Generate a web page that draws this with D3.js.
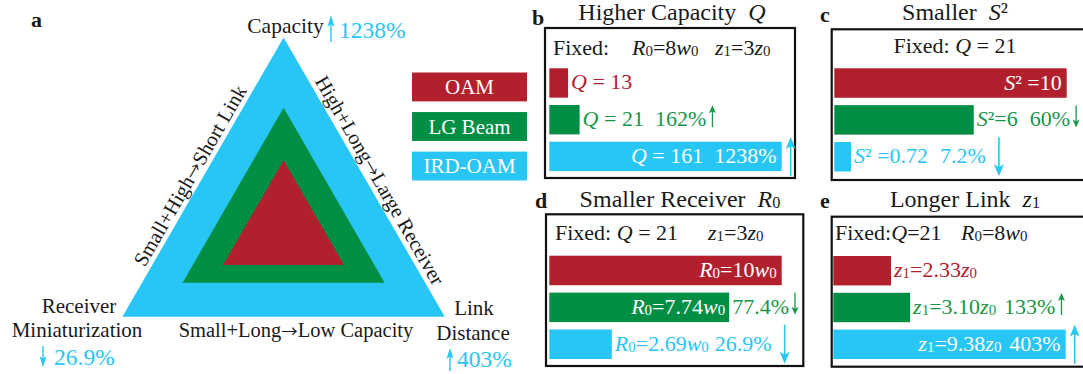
<!DOCTYPE html>
<html>
<head>
<meta charset="utf-8">
<script src="https://cdn.jsdelivr.net/npm/d3@7"></script>
<style>
  html, body { margin: 0; padding: 0; background: #fff; }
  svg { display: block; }
  text { font-family: "Liberation Serif", "Times New Roman", serif; fill: #1a1a1a; }
  .arw { font-family: "Noto Sans CJK SC", "DejaVu Sans", sans-serif; font-size: 0.8em; }
</style>
</head>
<body>
<svg id="fig" width="1083" height="374"></svg>
<script>
// ---- data ----
const methods = ["OAM", "LG Beam", "IRD-OAM"];
const capacityQ = [13, 21, 161];        // panel b
const crosstalkS2 = [10, 6, 0.72];      // panel c
const receiverR0 = [10, 7.74, 2.69];    // panel d (in units of w0)
const linkZ1 = [2.33, 3.10, 9.38];      // panel e (in units of z0)

// ---- styling ----
const barColors = ["#B2202E", "#008E44", "#27C6F5"];
const textColors = ["#B2202E", "#17964A", "#27C6F5"];
const svg = d3.select("#fig");

// ratio of a value to the OAM reference, written as a percentage
function pct(v, base) {
  const p = v / base * 100;
  return (p >= 100 ? Math.round(p) : Math.round(p * 10) / 10) + "%";
}

// rich text: segments of [string, style] where style is "i" (italic), "sub" or "arw"
function rich(sel, segs) {
  segs.forEach(([s, st]) => {
    const t = sel.append("tspan").text(s);
    if (st === "i") t.attr("font-style", "italic");
    if (st === "sub") t.attr("font-size", "0.68em").attr("baseline-shift", "-1");
    if (st === "arw") t.attr("class", "arw");
  });
  return sel;
}

function arrow(g, x, yTail, yHead, color, headW, headL, lw) {
  const dir = yHead < yTail ? -1 : 1;
  g.append("line")
    .attr("x1", x).attr("x2", x)
    .attr("y1", yTail).attr("y2", yHead - dir * headL * 0.6)
    .attr("stroke", color).attr("stroke-width", lw);
  g.append("path")
    .attr("d", `M${x},${yHead} L${x - headW / 2},${yHead - dir * headL} L${x},${yHead - dir * headL * 0.75} L${x + headW / 2},${yHead - dir * headL} Z`)
    .attr("fill", color);
}

// ================= panel a : nested triangles =================
const a = svg.append("g");
a.append("text").attr("x", 31).attr("y", 27).attr("font-size", 22)
  .attr("font-weight", "bold").text("a");

const cx = 283.6;
const triLayers = [
  { side: 322.4, base: 316.7 },   // IRD-OAM
  { side: 202, base: 282.7 },     // LG Beam
  { side: 121, base: 265 }        // OAM
];
const h3 = Math.sqrt(3) / 2;
triLayers.forEach((t, i) => {
  const apex = [cx, t.base - t.side * h3];
  const pts = [apex, [cx - t.side / 2, t.base], [cx + t.side / 2, t.base]];
  a.append("path").attr("d", d3.line()(pts) + "Z")
    .attr("fill", barColors[2 - i]);
});

// edge labels
const outer = triLayers[0];
const A = [cx, outer.base - outer.side * h3];
const BL = [cx - outer.side / 2, outer.base];
const BR = [cx + outer.side / 2, outer.base];
function edgeLabel(p0, p1, t, off, rot, segs) {
  const px = p0[0] + (p1[0] - p0[0]) * t;
  const py = p0[1] + (p1[1] - p0[1]) * t;
  const r = rot * Math.PI / 180;
  const ux = Math.sin(r), uy = -Math.cos(r);   // "up" direction of rotated text
  rich(a.append("text")
    .attr("transform", `translate(${px + ux * off},${py + uy * off}) rotate(${rot})`)
    .attr("text-anchor", "middle").attr("font-size", 20.5), segs);
}
edgeLabel(BL, A, 0.484, 5, -60, [["Small+High"], ["\u2192", "arw"], ["Short Link"]]);
edgeLabel(A, BR, 0.533, 5, 60, [["High+Long"], ["\u2192", "arw"], ["Large Receiver"]]);
rich(a.append("text").attr("x", 296).attr("y", 337).attr("text-anchor", "middle")
  .attr("font-size", 20.5), [["Small+Long"], ["\u2192", "arw"], ["Low Capacity"]]);

// vertex labels
const cyan = barColors[2];
a.append("text").attr("x", 285.5).attr("y", 33).attr("text-anchor", "middle")
  .attr("font-size", 21.5).text("Capacity");
arrow(a, 331, 42, 15, cyan, 7, 12, 1.4);
a.append("text").attr("x", 339).attr("y", 38).attr("font-size", 23.5)
  .style("fill", cyan).text(pct(capacityQ[2], capacityQ[0]));

a.append("text").attr("x", 79).attr("y", 313).attr("text-anchor", "middle")
  .attr("font-size", 21).text("Receiver");
a.append("text").attr("x", 77).attr("y", 337).attr("text-anchor", "middle")
  .attr("font-size", 21).text("Miniaturization");
arrow(a, 43, 346, 367, cyan, 7, 11, 1.4);
a.append("text").attr("x", 54).attr("y", 365).attr("font-size", 23.5)
  .style("fill", cyan).text(pct(receiverR0[2], receiverR0[0]));

a.append("text").attr("x", 474).attr("y", 315).attr("text-anchor", "middle")
  .attr("font-size", 21).text("Link");
a.append("text").attr("x", 473).attr("y", 340).attr("text-anchor", "middle")
  .attr("font-size", 21).text("Distance");
arrow(a, 450, 371, 348, cyan, 7, 11, 1.4);
a.append("text").attr("x", 457).attr("y", 367).attr("font-size", 23.5)
  .style("fill", cyan).text(pct(linkZ1[2], linkZ1[0]));

// legend
const legY = d3.scaleBand().domain(methods).range([72.5, 180.5]).paddingInner(0.27);
const leg = a.selectAll("g.leg").data(methods).join("g").attr("class", "leg");
leg.append("rect").attr("x", 412).attr("width", 115)
  .attr("y", d => legY(d)).attr("height", legY.bandwidth())
  .attr("fill", (d, i) => barColors[i]);
leg.append("text").attr("x", 469.5).attr("y", d => legY(d) + legY.bandwidth() / 2 + 7)
  .attr("text-anchor", "middle").attr("font-size", 21).style("fill", "#fff")
  .text(d => d);

// ================= panels b-e : bar comparisons =================
const panels = [
  {
    letter: "b", letterXY: [532, 25],
    title: [["Higher Capacity  "], ["Q", "i"]], titleXY: [672, 20],
    box: [545, 28, 795, 178], barX: 549.3, rowY: [68.3, 171.1],
    values: capacityQ, fmt: d3.format("d"), gap: 12,
    label: v => [["Q", "i"], [" = " + v]],
    place: ["out", "out", "in"], dir: "up",
    fixed: [
      { xy: [553, 55], segs: [["Fixed:"]] },
      { xy: [632, 55], segs: [["R", "i"], ["0", "sub"], ["=8"], ["w", "i"], ["0", "sub"]] },
      { xy: [715, 55], segs: [["z", "i"], ["1", "sub"], ["=3"], ["z", "i"], ["0", "sub"]] }
    ]
  },
  {
    letter: "c", letterXY: [820, 22],
    title: [["Smaller  "], ["S", "i"], ["\u00b2"]], titleXY: [955, 20],
    box: [831.7, 29.3, 1086, 180], barX: 834.3, rowY: [68.3, 171.5],
    values: crosstalkS2, fmt: v => String(v), gap: 12,
    label: (v, i) => [["S", "i"], ["\u00b2"], [(i === 1 ? "=" : " =") + v]],
    place: ["in", "out", "out"], dir: "down",
    fixed: [
      { xy: [955, 53], anchor: "middle", segs: [["Fixed: "], ["Q", "i"], [" = 21"]] }
    ]
  },
  {
    letter: "d", letterXY: [535, 208],
    title: [["Smaller Receiver  "], ["R", "i"], ["0", "sub"]], titleXY: [680, 206.7],
    box: [546, 214.3, 803.3, 366], barX: 549.3, rowY: [255.7, 359],
    values: receiverR0, fmt: v => String(v), gap: 6,
    label: v => [["R", "i"], ["0", "sub"], ["=" + v], ["w", "i"], ["0", "sub"]],
    place: ["in", "split", "out"], dir: "down",
    fixed: [
      { xy: [555, 240], segs: [["Fixed: "], ["Q", "i"], [" = 21"]] },
      { xy: [708, 240], segs: [["z", "i"], ["1", "sub"], ["=3"], ["z", "i"], ["0", "sub"]] }
    ]
  },
  {
    letter: "e", letterXY: [820, 208],
    title: [["Longer Link  "], ["z", "i"], ["1", "sub"]], titleXY: [965, 206.7],
    box: [831.7, 216.7, 1086, 366.7], barX: 833.3, rowY: [256, 359],
    values: linkZ1, fmt: d3.format(".2f"), gap: 8,
    label: v => [["z", "i"], ["1", "sub"], ["=" + v], ["z", "i"], ["0", "sub"]],
    place: ["out", "out", "in"], dir: "up",
    fixed: [
      { xy: [835, 240], segs: [["Fixed:"], ["Q", "i"], ["=21"]] },
      { xy: [961, 240], segs: [["R", "i"], ["0", "sub"], ["=8"], ["w", "i"], ["0", "sub"]] }
    ]
  }
];

const FS = 22;
const rightEdge = sel => { const b = sel.node().getBBox(); return b.x + b.width; };

panels.forEach(p => {
  const g = svg.append("g");
  g.append("text").attr("x", p.letterXY[0]).attr("y", p.letterXY[1])
    .attr("font-size", 22).attr("font-weight", "bold").text(p.letter);
  rich(g.append("text").attr("x", p.titleXY[0]).attr("y", p.titleXY[1])
    .attr("font-size", 24).attr("text-anchor", "middle").style("white-space", "pre"), p.title);

  const [x0, y0, x1, y1] = p.box;
  g.append("rect").attr("x", x0).attr("y", y0).attr("width", x1 - x0).attr("height", y1 - y0)
    .attr("fill", "none").attr("stroke", "#111").attr("stroke-width", 2.2);

  p.fixed.forEach(f => {
    rich(g.append("text").attr("x", f.xy[0]).attr("y", f.xy[1]).attr("font-size", FS)
      .attr("text-anchor", f.anchor || "start").style("white-space", "pre"), f.segs);
  });

  const x = d3.scaleLinear().domain([0, d3.max(p.values)]).range([0, 232.4]);
  const y = d3.scaleBand().domain(methods).range(p.rowY).paddingInner(0.2).paddingOuter(0);
  const bw = y.bandwidth();

  methods.forEach((m, i) => {
    const v = p.values[i];
    const top = y(m), w = x(v), end = p.barX + w;
    const base = top + bw / 2 + 6.5;
    g.append("rect").attr("x", p.barX).attr("y", top).attr("width", w).attr("height", bw)
      .attr("fill", barColors[i]);

    const place = p.place[i];
    const segs = p.label(p.fmt(v), i);
    const pctText = i > 0 ? pct(v, p.values[0]) : null;
    let lastEnd;
    if (place === "in") {
      const t = g.append("text").attr("y", base).attr("font-size", FS)
        .attr("text-anchor", "end").attr("x", end - 5).style("fill", "#fff");
      rich(t, segs);
      if (pctText) t.append("tspan").attr("dx", p.gap).text(pctText);
      lastEnd = end - 4;
    } else if (place === "split") {
      rich(g.append("text").attr("y", base).attr("font-size", FS)
        .attr("text-anchor", "end").attr("x", end - 4).style("fill", "#fff"), segs);
      const t2 = g.append("text").attr("y", base).attr("font-size", FS)
        .attr("x", end + 3).style("fill", textColors[i]).text(pctText);
      lastEnd = rightEdge(t2);
    } else {
      const t = g.append("text").attr("y", base).attr("font-size", FS)
        .attr("x", end + 3).style("fill", textColors[i]);
      rich(t, segs);
      if (pctText) t.append("tspan").attr("dx", p.gap).text(pctText);
      lastEnd = rightEdge(t);
    }

    const up = p.dir === "up";
    if (i === 1) {
      const ax = lastEnd + 6;
      arrow(g, ax, up ? base + 1 : base - 21, up ? base - 21 : base + 1, textColors[1], 7, 8, 1.3);
    } else if (i === 2) {
      const ax = lastEnd + 13;
      const c = top + bw / 2;
      arrow(g, ax, up ? c + 19.5 : c - 19.5, up ? c - 19.5 : c + 19.5, barColors[2], 10, 12, 1.6);
    }
  });
});
</script>
</body>
</html>
